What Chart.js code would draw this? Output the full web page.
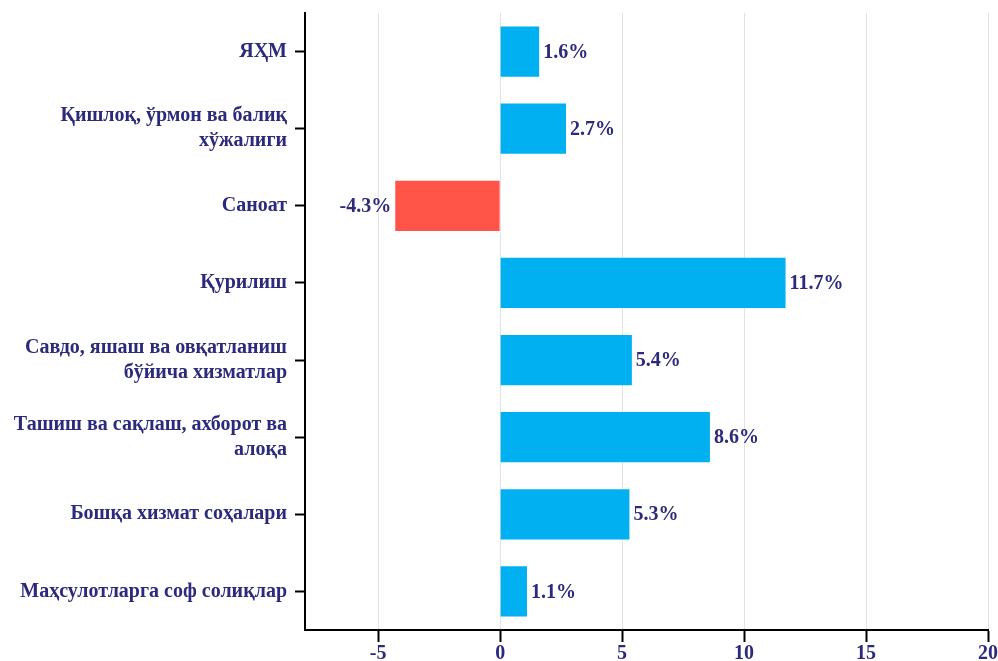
<!DOCTYPE html>
<html>
<head>
<meta charset="utf-8">
<script src="https://cdn.jsdelivr.net/npm/chart.js@4/dist/chart.umd.min.js"></script>
<style>
  html, body { margin: 0; padding: 0; background: #fff; }
  #wrap { width: 998px; height: 661px; }
</style>
</head>
<body>
<div id="wrap"><canvas id="barChart" width="998" height="661"></canvas></div>
<script>
  // Данные
  const categories = [
    "ЯҲМ",
    ["Қишлоқ, ўрмон ва балиқ", "хўжалиги"],
    "Саноат",
    "Қурилиш",
    ["Савдо, яшаш ва овқатланиш", "бўйича хизматлар"],
    ["Ташиш ва сақлаш, ахборот ва", "алоқа"],
    "Бошқа хизмат соҳалари",
    "Маҳсулотларга соф солиқлар"
  ];
  const growth = [1.6, 2.7, -4.3, 11.7, 5.4, 8.6, 5.3, 1.1];
  const xTicks = [-5, 0, 5, 10, 15, 20];

  const textColor = "#2b2a7c";
  const font = { family: "'Liberation Serif', 'DejaVu Serif', serif", weight: "bold", size: 20 };

  // подписи значений у концов столбцов
  const valueLabels = {
    id: "valueLabels",
    afterDatasetsDraw(chart) {
      const ctx = chart.ctx;
      const meta = chart.getDatasetMeta(0);
      ctx.save();
      ctx.font = "bold 20px 'Liberation Serif', serif";
      ctx.fillStyle = textColor;
      ctx.textBaseline = "middle";
      meta.data.forEach((bar, i) => {
        const v = growth[i];
        const txt = v.toFixed(1) + "%";
        if (v >= 0) {
          ctx.textAlign = "left";
          ctx.fillText(txt, bar.x + 4, bar.y + 1);
        } else {
          ctx.textAlign = "right";
          ctx.fillText(txt, bar.x - 4, bar.y + 1);
        }
      });
      ctx.restore();
    }
  };

  new Chart(document.getElementById("barChart"), {
    type: "bar",
    data: {
      labels: categories,
      datasets: [{
        data: growth,
        backgroundColor: growth.map(v => v < 0 ? "#ff5447" : "#00b0f0"),
        barPercentage: 0.65,
        categoryPercentage: 1
      }]
    },
    options: {
      indexAxis: "y",
      responsive: false,
      animation: false,
      layout: { padding: { top: 13, right: 6, left: 0, bottom: 0 } },
      plugins: { legend: { display: false }, tooltip: { enabled: false } },
      scales: {
        x: {
          min: -8,
          max: 20,
          afterBuildTicks(scale) {
            scale.ticks = xTicks.map(v => ({ value: v }));
          },
          afterFit(scale) { scale.height = 31; },
          grid: { color: "#e3e3e3", lineWidth: 1, tickColor: "#000", tickWidth: 2, tickLength: 12 },
          border: { color: "#000", width: 2 },
          ticks: { color: textColor, font: font, padding: 0 }
        },
        y: {
          afterFit(scale) {
            scale.width = 305;
            scale.paddingTop = 0;
            scale.paddingBottom = 0;
          },
          grid: { drawOnChartArea: false, offset: false, tickColor: "#000", tickWidth: 2, tickLength: 10 },
          border: { color: "#000", width: 2 },
          ticks: { color: textColor, font: Object.assign({ lineHeight: 1.25 }, font), padding: 8 }
        }
      }
    },
    plugins: [valueLabels]
  });
</script>
</body>
</html>
